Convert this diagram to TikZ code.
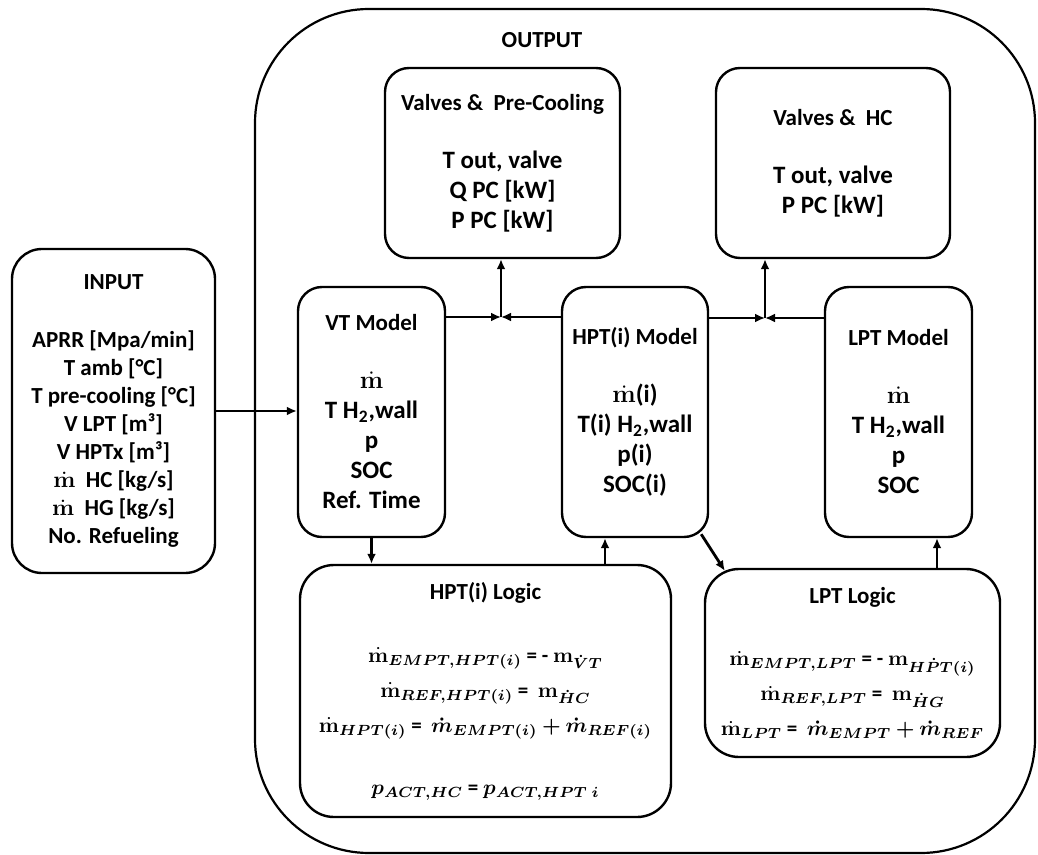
\RequirePackage{fix-cm}
\documentclass[tikz,border=0pt]{standalone}
\usepackage{amsmath,bm}
\usepackage[no-math]{fontspec}
\setmainfont{Carlito}
\usetikzlibrary{arrows.meta,positioning,calc}
\newcommand{\fttitle}{\fontsize{11.5}{15}\selectfont}
\newcommand{\ftbody}{\fontsize{12.5}{15}\selectfont}
\newcommand{\ftin}{\fontsize{11.5}{14}\selectfont}
\newcommand{\fteq}{\fontsize{10.5}{17.5}\selectfont}
\newcommand{\mdot}{\dot{\mathbf{m}}}
\tikzset{
  cadre/.style={rectangle, rounded corners=#1, draw=black, line width=1.2pt,
                align=center, font=\bfseries\ftbody, inner sep=0pt},
  cadre/.default=12pt,
  frame/.style={rectangle, rounded corners=57pt, draw=black, line width=1.1pt, inner sep=0pt},
  arr/.style={-{Latex[length=5pt,width=4.5pt]}, line width=1.4pt, draw=black},
}

\begin{document}
\begin{tikzpicture}[x=0.5pt, y=-0.5pt]
  \useasboundingbox (0,0) rectangle (1038,855);
  % output frame
  \node[frame, minimum width=390pt, minimum height=422pt] (out) at (645,431) {};
  \node[font=\bfseries\fttitle] (outlbl) at (542,40) {OUTPUT};
  % input
  \node[cadre=15pt, font=\bfseries\ftin, minimum width=101.5pt, minimum height=162pt] (inp) at (113.5,411)
    {\fttitle INPUT\\[15pt]APRR [Mpa/min]\\T amb [°C]\\T pre-cooling [°C]\\
     V LPT [m³]\\V HPTx [m³]\\$\mdot$\ \ HC [kg/s]\\$\mdot$\ \ HG [kg/s]\\No. Refueling};
  % valves
  \node[cadre, minimum width=117.5pt, minimum height=95pt] (vpc) at (502.5,163)
    {\fttitle Valves \&\ \ Pre-Cooling\\[14pt]T out, valve\\Q PC [kW]\\P PC [kW]};
  \node[cadre, minimum width=117pt, minimum height=95pt] (vhc) at (833,163)
    {\fttitle Valves \&\ \ HC\\[14pt]T out, valve\\P PC [kW]};
  % tank models
  \node[cadre, minimum width=73.5pt, minimum height=125pt] (vt) at (371.5,412)
    {\fttitle VT Model\\[14pt]$\mdot$\\T H\textsubscript{2},wall\\p\\SOC\\Ref. Time};
  \node[cadre, minimum width=73pt, minimum height=125pt] (hptm) at (635,412)
    {\fttitle HPT(i) Model\\[14pt]$\mdot$(i)\\T(i) H\textsubscript{2},wall\\p(i)\\SOC(i)};
  \node[cadre, minimum width=73.5pt, minimum height=125pt] (lptm) at (898.5,412)
    {\fttitle LPT Model\\[14pt]$\mdot$\\T H\textsubscript{2},wall\\p\\SOC};
  % logic
  \node[cadre=17pt, font=\bfseries\fteq, minimum width=185.5pt, minimum height=126pt] (hlog) at (485.5,691)
    {\fttitle HPT(i) Logic\\[14pt]
     $\mdot_{\bm{EMPT,HPT(i)}}$ = - $\mathbf{m}_{\bm{\dot{V}T}}$\\
     $\mdot_{\bm{REF,HPT(i)}}$ =\ \ $\mathbf{m}_{\bm{\dot{H}C}}$\\
     $\mdot_{\bm{HPT(i)}}$ =\ \ $\bm{\dot{m}_{EMPT(i)}+\dot{m}_{REF(i)}}$\\[13.5pt]
     $\bm{p_{ACT,HC}}$ = $\bm{p_{ACT,HPT\ i}}$};
  \node[cadre=17pt, font=\bfseries\fteq, minimum width=147.5pt, minimum height=94pt] (llog) at (852.5,663)
    {\fttitle LPT Logic\\[13.5pt]
     $\mdot_{\bm{EMPT,LPT}}$ = - $\mathbf{m}_{\bm{H\dot{P}T(i)}}$\\
     $\mdot_{\bm{REF,LPT}}$ =\ \ $\mathbf{m}_{\bm{\dot{H}G}}$\\
     $\mdot_{\bm{LPT}}$ =\ \ $\bm{\dot{m}_{EMPT}+\dot{m}_{REF}}$};
  % connectors
  \coordinate (jpc) at (501,317);
  \coordinate (jhc) at (765,318);
  \coordinate (hup) at ([xshift=-15pt]hptm.south);
  \coordinate (lup) at ([xshift=19.25pt]lptm.south);
  \draw[arr] (inp.east) -- (inp.east -| vt.west);
  \draw[arr] (vt.east |- jpc) -- (jpc);
  \draw[arr] (hptm.west |- jpc) -- (jpc);
  \draw[arr] (jpc) -- (jpc |- vpc.south);
  \draw[arr] (hptm.east |- jhc) -- (jhc);
  \draw[arr] (lptm.west |- jhc) -- (jhc);
  \draw[arr] (jhc) -- (jhc |- vhc.south);
  \draw[arr] (vt.south) -- (vt.south |- hlog.north);
  \draw[arr] (hup |- hlog.north) -- (hup);
  \draw[arr] ($(hptm.south east)+(-8,-4)$) -- ($(llog.north west)+(21,3)$);
  \draw[arr] (lup |- llog.north) -- (lup);
\end{tikzpicture}
\end{document}
